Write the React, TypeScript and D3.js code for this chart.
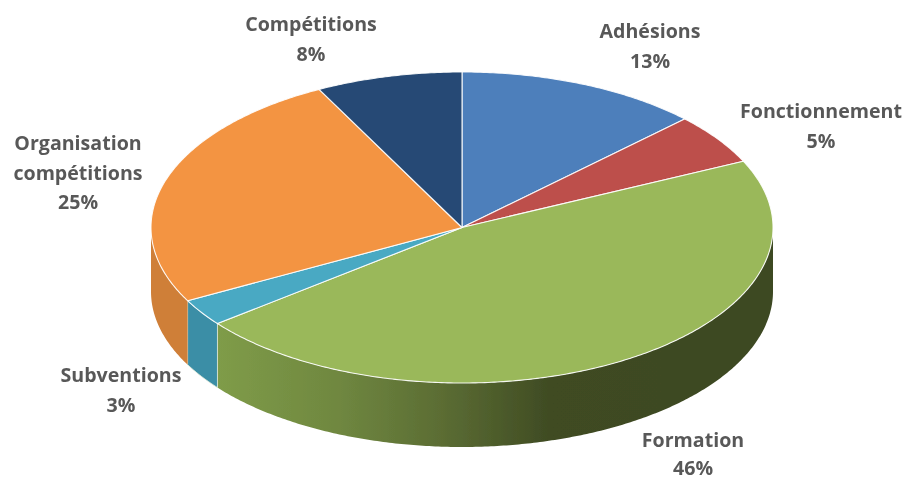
import React from "react";
import * as d3 from "d3";

const categories = ["Adhésions", "Fonctionnement", "Formation", "Subventions", "Organisation compétitions", "Compétitions"];
const values = [12.7, 5.3, 46.4, 2.8, 25.2, 7.6];
const topColors = ["#4d7fbb", "#bd4f4b", "#9ab85a", "#49a9c3", "#f39443", "#264a74"];
const wallColors = ["#3f6797", "#9a403e", "url(#formationWall)", "#3b8ea6", "#cf7f38", "#1e3b5d"];

const W = 907, H = 481;
const cx = 462, cy = 227.5, rx = 311, ry = 155.5, depth = 64;
const FONT = "'Open Sans', 'Noto Sans', sans-serif";

// label centre and first baseline, in reading order of the categories
const labelAnchors: [number, number][] = [[650, 38], [821, 118], [693, 446.5], [121, 382], [78, 150], [311, 31]];
const labelGaps = [29.6, 29.6, 28.4, 29.6, 29.6, 29.6];
const labelLines = [["Adhésions"], ["Fonctionnement"], ["Formation"], ["Subventions"], ["Organisation", "compétitions"], ["Compétitions"]];

const px = d3.scaleLinear().domain([-1, 1]).range([cx - rx, cx + rx]);
const py = d3.scaleLinear().domain([-1, 1]).range([cy - ry, cy + ry]);
const line = d3.line<[number, number]>();

const sample = (a0: number, a1: number, dy = 0): [number, number][] => {
  const n = Math.max(2, Math.ceil((a1 - a0) / 0.01));
  return d3.range(n + 1).map((i) => {
    const a = a0 + ((a1 - a0) * i) / n;
    return [px(Math.sin(a)), py(-Math.cos(a)) + dy] as [number, number];
  });
};

export default function App() {
  const arcs = d3.pie<number>().sort(null)(values);
  return (
    <svg width={W} height={H} viewBox={`0 0 ${W} ${H}`} style={{ position: "absolute", left: 0, top: 0, background: "#fff" }}>
      <defs>
        <linearGradient id="formationWall" gradientUnits="userSpaceOnUse" x1={217} x2={775} y1={0} y2={0}>
          <stop offset="0" stopColor="#7f9c48" />
          <stop offset="0.22" stopColor="#6f8740" />
          <stop offset="0.42" stopColor="#596a32" />
          <stop offset="0.6" stopColor="#3f4b23" />
          <stop offset="1" stopColor="#3d4822" />
        </linearGradient>
        <filter id="soft" x="-5%" y="-5%" width="110%" height="110%">
          <feGaussianBlur stdDeviation="0.45" />
        </filter>
      </defs>
      <g filter="url(#soft)">
        {arcs.map((d, i) => {
          const a0 = Math.max(d.startAngle, Math.PI / 2);
          const a1 = Math.min(d.endAngle, (3 * Math.PI) / 2);
          if (a1 <= a0) return null;
          const top = sample(a0, a1);
          const bottom = sample(a0, a1, depth).reverse();
          return (
            <path key={"w" + i} d={line([...top, ...bottom])! + "Z"} fill={wallColors[i]}
              stroke={i === 3 ? "#e4ecd8" : "none"} strokeWidth={i === 3 ? 0.8 : 0} />
          );
        })}
        {arcs.map((d, i) => (
          <path key={"t" + i} d={line([[px(0), py(0)], ...sample(d.startAngle, d.endAngle)])! + "Z"}
            fill={topColors[i]} stroke="#fff" strokeWidth={1.1} strokeOpacity={0.9} strokeLinejoin="round" />
        ))}
      </g>
      <g fontFamily={FONT} fontWeight={700} fontSize={19.6} fill="#595959" textAnchor="middle" filter="url(#soft)">
        {categories.map((c, i) => {
          const [x, y] = labelAnchors[i];
          const lines = [...labelLines[i], `${Math.round(values[i])}%`];
          return (
            <text key={c} x={x} y={y}>
              {lines.map((l, j) => (
                <tspan key={j} x={x} dy={j === 0 ? 0 : labelGaps[i]}>{l}</tspan>
              ))}
            </text>
          );
        })}
      </g>
    </svg>
  );
}
